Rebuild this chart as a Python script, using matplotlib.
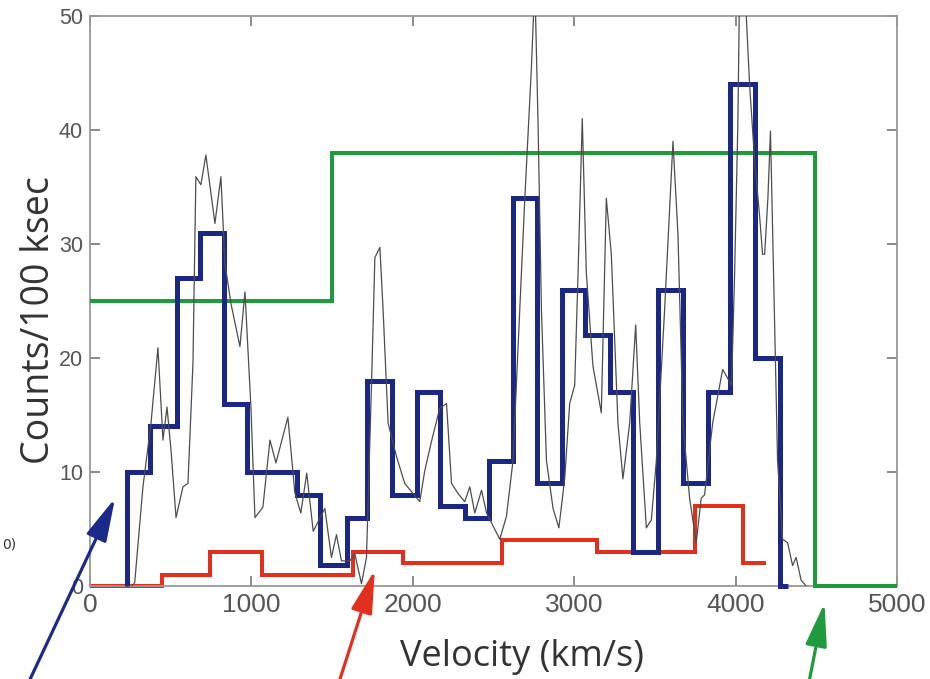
import matplotlib
matplotlib.use("Agg")
from matplotlib import pyplot as plt

# Bayesian-block style histograms (bin edges in km/s, counts per 100 ksec)
blue_edges = [229, 372, 539, 681, 830, 972, 1282, 1424, 1591, 1715, 1870, 2025, 2167,
              2322, 2471, 2619, 2768, 2923, 3065, 3220, 3362, 3517, 3672, 3827, 3963,
              4118, 4272, 4322]
blue_vals = [10, 14, 27, 31, 16, 10, 8, 1.8, 6, 18, 8, 17, 7, 6, 11, 34, 9, 26, 22, 17,
             3, 26, 9, 17, 44, 20, 0]

red_edges = [0, 446, 743, 1065, 1628, 1938, 2551, 3139, 3746, 4043, 4190]
red_vals = [0, 1, 3, 1, 3, 2, 4, 3, 7, 2]

green_edges = [0, 1498, 4489, 5000]
green_vals = [25, 38, 0]

# finely binned spectrum (thin grey line)
gray_v = [260, 277, 328, 378, 421, 452, 477, 502, 533, 576, 607, 638, 656, 687, 718, 774,
          811, 836, 873, 929, 960, 997, 1022, 1071, 1115, 1152, 1226, 1269, 1306, 1343,
          1383, 1455, 1496, 1527, 1558, 1610, 1641, 1682, 1713, 1744, 1765, 1796, 1816,
          1847, 1898, 1950, 2002, 2043, 2074, 2116, 2167, 2209, 2240, 2281, 2322, 2353,
          2384, 2426, 2457, 2539, 2580, 2621, 2652, 2694, 2735, 2756, 2776, 2797, 2828,
          2869, 2905, 2941, 2972, 3003, 3024, 3050, 3075, 3116, 3168, 3199, 3230, 3271,
          3302, 3344, 3381, 3406, 3447, 3478, 3509, 3560, 3612, 3643, 3674, 3715, 3756,
          3787, 3808, 3858, 3920, 3975, 3994, 4014, 4025, 4056, 4087, 4118, 4149, 4167,
          4180, 4200, 4216, 4235, 4260, 4291, 4322, 4353, 4375, 4406, 4437]
gray_c = [0, 0.3, 8.7, 14.3, 20.9, 12.8, 15.7, 11.9, 6.0, 8.7, 9.0, 19.6, 35.9, 35.2, 37.8,
          31.8, 35.9, 28.3, 24.8, 21.0, 25.8, 15.7, 6.0, 6.9, 12.8, 10.8, 14.8, 8.2, 6.4,
          9.9, 4.8, 6.8, 2.5, 4.5, 2.2, 2.2, 2.8, 0.2, 2.5, 17.6, 28.8, 29.7, 24.2, 14.3,
          11.4, 9.0, 8.1, 7.4, 10.1, 12.7, 15.6, 16.0, 9.0, 8.1, 7.4, 8.7, 6.4, 8.4, 6.4,
          4.1, 6.1, 11.0, 20.9, 34.0, 45.5, 53, 40.6, 24.2, 11.0, 6.8, 5.1, 9.4, 16.0,
          17.6, 27.5, 41.0, 27.5, 19.3, 15.2, 34.0, 29.1, 14.3, 9.4, 14.3, 22.9, 14.3,
          5.1, 5.8, 11.0, 24.2, 39.0, 30.8, 14.3, 7.7, 3.8, 7.7, 8.0, 14.3, 19.0, 17.6,
          27.5, 40.6, 53, 53, 43.9, 37.3, 32.4, 29.1, 29.1, 34.0, 39.9, 27.5, 11.0, 4.1,
          3.8, 1.8, 2.5, 0.5, 0]

# arrows pointing at the three curves: (tail, tip) in data units
arrows = {
    "#1b2a8a": ((-372, -8.2), (155, 7.7)),
    "#e2301f": ((1548, -8.2), (1765, 1.4)),
    "#1f9a3c": ((4458, -8.2), (4551, -1.5)),
}

x_ticks = [0, 1000, 2000, 3000, 4000, 5000]
y_ticks = [0, 10, 20, 30, 40, 50]

fig = plt.figure(figsize=(9.3, 6.79), dpi=100)
ax = fig.add_axes([90 / 930, 93 / 679, 807 / 930, 570 / 679])

ax.stairs(red_vals, red_edges, baseline=None, color="#e2301f", lw=2.9, clip_on=False, zorder=2)
ax.stairs(green_vals, green_edges, baseline=None, color="#1f9a3c", lw=2.9, clip_on=False, zorder=3)
ax.stairs(blue_vals, blue_edges, baseline=0, color="#1a2784", lw=3.6, clip_on=False, zorder=4)
ax.plot(gray_v, gray_c, color="#4d4d4d", lw=0.9, zorder=5)

for col, (tail, tip) in arrows.items():
    ax.annotate("", xy=tip, xytext=tail, annotation_clip=False,
                arrowprops=dict(arrowstyle="-|>,head_length=1.2,head_width=0.3",
                                color=col, lw=2.3, mutation_scale=22, shrinkA=0, shrinkB=0))

ax.set_xlim(0, 5000)
ax.set_ylim(0, 50)
ax.set_xticks(x_ticks)
ax.set_yticks(y_ticks)
ax.tick_params(direction="in", length=7, width=1.2, color="#777777", top=True, right=True,
               labelcolor="#555555", pad=5)
ax.tick_params(axis="x", labelsize=19)
ax.tick_params(axis="y", labelsize=15.5)
for lab in ax.get_xticklabels() + ax.get_yticklabels():
    lab.set_family("Liberation Sans")
for s in ax.spines.values():
    s.set_color("#999999")
    s.set_linewidth(1.3)

ax.set_xlabel("Velocity (km/s)", fontsize=26, family="Open Sans", color="#333333", va="center")
ax.xaxis.set_label_coords((522 - 90) / 807, -0.125)
ax.set_ylabel("Counts/100 ksec", fontsize=27, family="Open Sans", color="#333333", va="center")
ax.yaxis.set_label_coords(-0.063, 0.467)

fig.text(2 / 930, 1 - 545 / 679, "0)", fontsize=10, color="#333333", va="center")

fig.savefig("out.png", dpi=100)
